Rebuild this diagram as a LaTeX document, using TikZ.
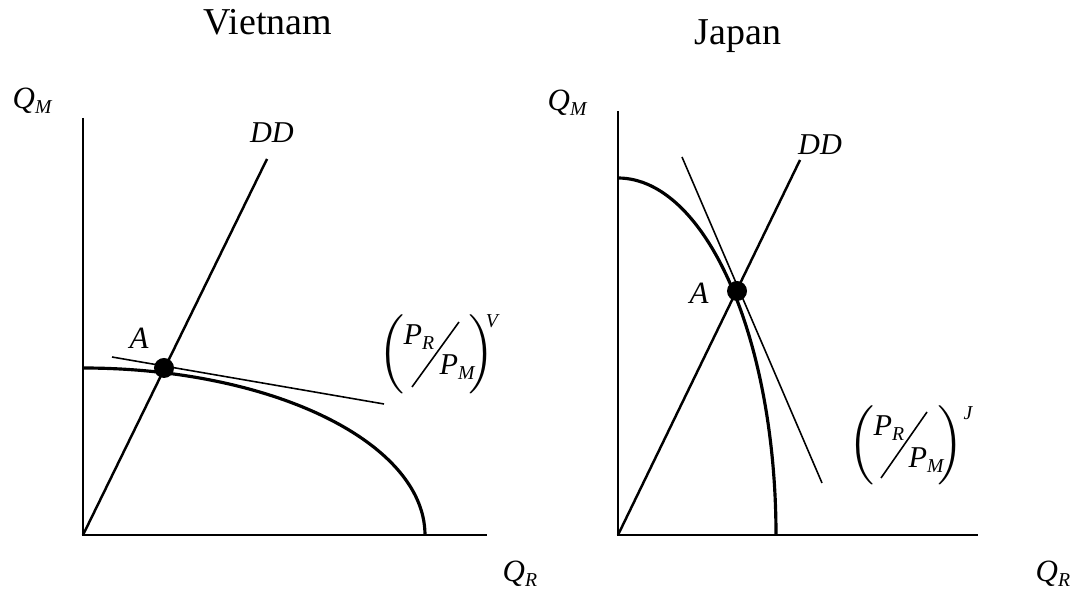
\documentclass[tikz,border=0pt]{standalone}
\usepackage{fontspec}
\setmainfont{Liberation Serif}
\usepackage{tikz}
\usetikzlibrary{positioning}

\newcommand{\qty}[2]{#1\raisebox{-0.35ex}{\fontsize{5.6}{6}\selectfont #2}}
\newcommand{\parl}{$\Big($}
\newcommand{\parr}{$\Big)$}

\begin{document}
\begin{tikzpicture}[
    x=0.01cm, y=-0.01cm,
    axis/.style={line width=0.7pt},
    ppf/.style={line width=0.9pt},
    demand/.style={line width=0.7pt},
    price/.style={line width=0.45pt},
    title/.style={font=\fontsize{10.8}{13}\selectfont, inner sep=0pt},
    lbl/.style={font=\fontsize{8.8}{10}\selectfont\itshape, inner sep=0pt},
    small/.style={font=\fontsize{8.6}{10}\selectfont\itshape, inner sep=0pt},
    sup/.style={font=\fontsize{5.6}{6}\selectfont\itshape, inner sep=0pt},
    eqpt/.style={circle, fill=black, minimum size=0.2cm, inner sep=0pt}
]
\useasboundingbox (0,0) rectangle (1070,589);

% Vietnam
\node[title, anchor=base] (vtitle) at (268,35) {Vietnam};
\coordinate (vO) at (83,535);
\coordinate (vY) at (83,118);
\coordinate (vX) at (487,535);
\coordinate (vDDtop) at (267,159);
\coordinate (vPa) at (112,357);
\coordinate (vPb) at (384,404);
\draw[axis] (vY) -- (vO) -- (vX);
\draw[ppf] plot[domain=90:0, samples=60, smooth] ({83+342*cos(\x)},{535-167*sin(\x)});
\draw[demand] (vO) -- (vDDtop);
\draw[price] (vPa) -- (vPb);
\node[eqpt] (vA) at (164,368) {};
\node[lbl, anchor=base west] (vQM) at (12,109) {\qty{Q}{M}};
\node[lbl, anchor=base west] (vQR) at (502,582) {\qty{Q}{R}};
\node[lbl] (vAlbl) at (139,338) {A};
\node[small] (vDD) at (272,133) {DD};
\begin{scope}[shift={(392,354)}]
  \node[inner sep=0pt, scale=1.25] (vlpar) at (0,0) {\parl};
  \node[small, anchor=base west] (vPR) at (11,-9) {\qty{P}{R}};
  \node[small, anchor=base west] (vPM) at (47,21) {\qty{P}{M}};
  \coordinate (vsa) at (20,33);
  \coordinate (vsb) at (67,-32);
  \draw[price] (vsa) -- (vsb);
  \node[inner sep=0pt, scale=1.25] (vrpar) at (90,0) {\parr};
  \node[sup] (vsup) at (100,-33) {V};
\end{scope}

% Japan
\node[title, anchor=base] (jtitle) at (738,45) {Japan};
\coordinate (jO) at (618,535);
\coordinate (jY) at (618,111);
\coordinate (jX) at (978,535);
\coordinate (jDDtop) at (800,160);
\coordinate (jPa) at (682,157);
\coordinate (jPb) at (822,483);
\draw[axis] (jY) -- (jO) -- (jX);
\draw[ppf] plot[domain=90:0, samples=60, smooth] ({618+158*cos(\x)},{535-357*sin(\x)});
\draw[demand] (jO) -- (jDDtop);
\draw[price] (jPa) -- (jPb);
\node[eqpt] (jA) at (737,291) {};
\node[lbl, anchor=base west] (jQM) at (547,111) {\qty{Q}{M}};
\node[lbl, anchor=base west] (jQR) at (1035,582) {\qty{Q}{R}};
\node[lbl] (jAlbl) at (699,293) {A};
\node[small] (jDD) at (820,145) {DD};
\begin{scope}[shift={(862,445)}]
  \node[inner sep=0pt, scale=1.25] (jlpar) at (0,0) {\parl};
  \node[small, anchor=base west] (jPR) at (11,-9) {\qty{P}{R}};
  \node[small, anchor=base west] (jPM) at (46,23) {\qty{P}{M}};
  \coordinate (jsa) at (19,33);
  \coordinate (jsb) at (65,-33);
  \draw[price] (jsa) -- (jsb);
  \node[inner sep=0pt, scale=1.25] (jrpar) at (89,0) {\parr};
  \node[sup] (jsup) at (106,-32) {J};
\end{scope}
\end{tikzpicture}
\end{document}
